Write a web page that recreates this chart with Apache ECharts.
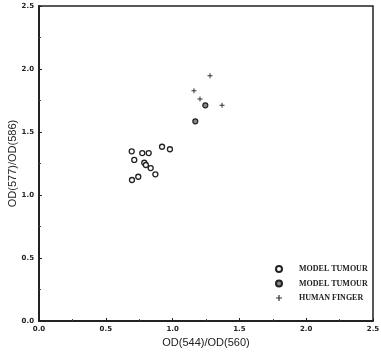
<!DOCTYPE html>
<html><head><meta charset="utf-8">
<script src="https://cdn.jsdelivr.net/npm/echarts@6/dist/echarts.min.js"></script>
<style>html,body{margin:0;padding:0;background:#fff}#c{width:381px;height:359px}</style>
</head><body><div id="c"></div>
<script>
const xTicks = [0.0, 0.5, 1.0, 1.5, 2.0, 2.5];
const yTicks = [0.0, 0.5, 1.0, 1.5, 2.0, 2.5];
const seriesNames = ['MODEL TUMOUR', 'MODEL TUMOUR ', 'HUMAN FINGER'];
const tumourA_x = [0.694, 0.713, 0.773, 0.821, 0.921, 0.980, 0.788, 0.800, 0.836, 0.871, 0.696, 0.743];
const tumourA_y = [1.347, 1.278, 1.333, 1.333, 1.383, 1.363, 1.256, 1.238, 1.214, 1.164, 1.119, 1.145];
const tumourB_x = [1.170, 1.245];
const tumourB_y = [1.585, 1.712];
const finger_x = [1.280, 1.160, 1.205, 1.370];
const finger_y = [1.947, 1.828, 1.762, 1.712];

const zip = (a, b) => a.map((v, i) => [v, b[i]]);
const plus = 'path://M4,0L6,0L6,4L10,4L10,6L6,6L6,10L4,10L4,6L0,6L0,4L4,4Z';
const tickFont = {fontFamily: 'DejaVu Sans', fontWeight: 'bold', fontSize: 7, color: '#222'};
const titleFont = {fontFamily: 'Liberation Sans', fontSize: 11, color: '#222'};

const chart = echarts.init(document.getElementById('c'), null, {renderer: 'canvas'});
chart.setOption({
  animation: false,
  grid: {left: 39, right: 8, top: 6, bottom: 38, containLabel: false, outerBoundsMode: 'none',
         show: true, borderColor: '#222', borderWidth: 1.5, backgroundColor: 'transparent'},
  xAxis: {
    type: 'value', min: xTicks[0], max: xTicks[xTicks.length - 1], interval: 0.5,
    name: 'OD(544)/OD(560)', nameLocation: 'middle', nameGap: 16, nameMoveOverlap: false, nameTextStyle: titleFont,
    axisLine: {show: true, lineStyle: {color: '#222', width: 2}},
    axisTick: {show: true, inside: true, length: 3, lineStyle: {color: '#222'}},
    minorTick: {show: true, splitNumber: 2, length: 2, lineStyle: {color: '#444'}},
    splitLine: {show: false},
    axisLabel: Object.assign({margin: 5, formatter: v => v.toFixed(1)}, tickFont)
  },
  yAxis: {
    type: 'value', min: yTicks[0], max: yTicks[yTicks.length - 1], interval: 0.5,
    name: 'OD(577)/OD(586)', nameLocation: 'middle', nameGap: 21, nameMoveOverlap: false, nameTextStyle: titleFont,
    axisLine: {show: true, lineStyle: {color: '#222', width: 2}},
    axisTick: {show: true, inside: true, length: 3, lineStyle: {color: '#222'}},
    minorTick: {show: true, splitNumber: 2, length: 2, lineStyle: {color: '#444'}},
    splitLine: {show: false},
    axisLabel: Object.assign({margin: 5, formatter: v => v.toFixed(1)}, tickFont)
  },
  legend: {
    orient: 'vertical', left: 270, top: 259, itemWidth: 30, itemHeight: 6, itemGap: 4.5,
    data: seriesNames,
    textStyle: {fontFamily: 'Liberation Serif', fontWeight: 'bold', fontSize: 8, color: '#222', lineHeight: 10}
  },
  series: [
    {name: seriesNames[0], type: 'scatter', symbol: 'circle', symbolSize: 5,
     itemStyle: {color: '#fff', borderColor: '#222', borderWidth: 1.3, opacity: 1},
     data: zip(tumourA_x, tumourA_y)},
    {name: seriesNames[1], type: 'scatter', symbol: 'circle', symbolSize: 5,
     itemStyle: {color: '#888', borderColor: '#222', borderWidth: 1.2, opacity: 1},
     data: zip(tumourB_x, tumourB_y)},
    {name: seriesNames[2], type: 'scatter', symbol: plus, symbolSize: 5,
     itemStyle: {color: '#333', opacity: 1},
     data: zip(finger_x, finger_y)}
  ]
});
</script></body></html>
